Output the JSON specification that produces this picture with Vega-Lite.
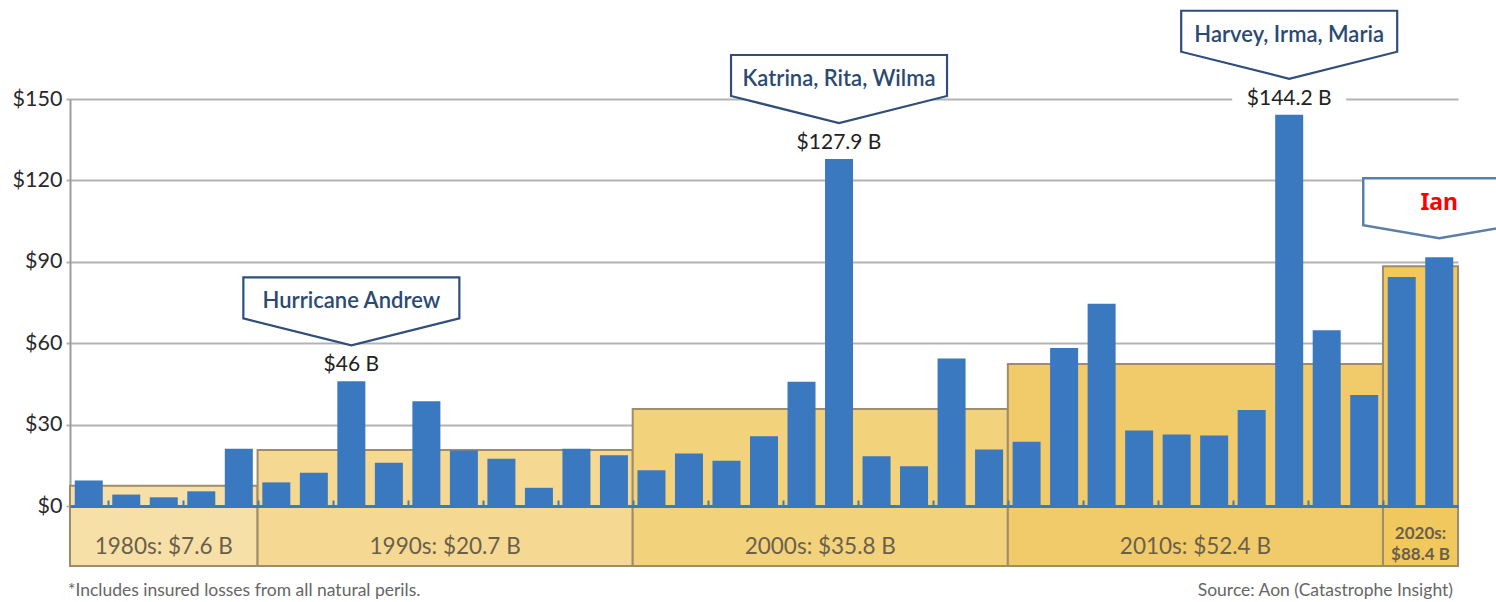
{
  "$schema": "https://vega.github.io/schema/vega-lite/v6.json",
  "width": 1388,
  "height": 467,
  "autosize": {"type": "none"},
  "padding": {"left": 70, "top": 99, "right": 38, "bottom": 36},
  "background": "white",
  "config": {"view": {"stroke": null}, "font": "Lato"},
  "datasets": {
    "years": [
      {"year": 1985, "value": 9.5}, {"year": 1986, "value": 4.3}, {"year": 1987, "value": 3.3},
      {"year": 1988, "value": 5.5}, {"year": 1989, "value": 21.2}, {"year": 1990, "value": 8.8},
      {"year": 1991, "value": 12.3}, {"year": 1992, "value": 46}, {"year": 1993, "value": 16.0},
      {"year": 1994, "value": 38.7}, {"year": 1995, "value": 20.5}, {"year": 1996, "value": 17.5},
      {"year": 1997, "value": 6.8}, {"year": 1998, "value": 21.2}, {"year": 1999, "value": 18.8},
      {"year": 2000, "value": 13.3}, {"year": 2001, "value": 19.4}, {"year": 2002, "value": 16.8},
      {"year": 2003, "value": 25.8}, {"year": 2004, "value": 45.9}, {"year": 2005, "value": 127.9},
      {"year": 2006, "value": 18.4}, {"year": 2007, "value": 14.7}, {"year": 2008, "value": 54.4},
      {"year": 2009, "value": 20.9}, {"year": 2010, "value": 23.8}, {"year": 2011, "value": 58.3},
      {"year": 2012, "value": 74.6}, {"year": 2013, "value": 27.9}, {"year": 2014, "value": 26.4},
      {"year": 2015, "value": 26.1}, {"year": 2016, "value": 35.5}, {"year": 2017, "value": 144.2},
      {"year": 2018, "value": 64.8}, {"year": 2019, "value": 41.0}, {"year": 2020, "value": 84.4},
      {"year": 2021, "value": 91.7}
    ],
    "decades": [
      {"decade": "1980s", "start": 1984.5, "end": 1989.5, "mid": 1987, "avg": 7.6, "label": "1980s: $7.6 B"},
      {"decade": "1990s", "start": 1989.5, "end": 1999.5, "mid": 1994.5, "avg": 20.7, "label": "1990s: $20.7 B"},
      {"decade": "2000s", "start": 1999.5, "end": 2009.5, "mid": 2004.5, "avg": 35.8, "label": "2000s: $35.8 B"},
      {"decade": "2010s", "start": 2009.5, "end": 2019.5, "mid": 2014.5, "avg": 52.4, "label": "2010s: $52.4 B"},
      {"decade": "2020s", "start": 2019.5, "end": 2021.5, "mid": 2020.5, "avg": 88.4, "label": "2020s:\n$88.4 B"}
    ],
    "callouts": [
      {"year": 1992, "value": 46, "label": "Hurricane Andrew", "amount": "$46 B"},
      {"year": 2005, "value": 127.9, "label": "Katrina, Rita, Wilma", "amount": "$127.9 B"},
      {"year": 2017, "value": 144.2, "label": "Harvey, Irma, Maria", "amount": "$144.2 B"}
    ],
    "ian": [
      {"year": 2021, "value": 91.7, "label": "Ian"}
    ],
    "notes": [
      {"text": "*Includes insured losses from all natural perils."},
      {"text": "Source: Aon (Catastrophe Insight)"}
    ]
  },
  "layer": [
    {
      "data": {"name": "decades"},
      "mark": {"type": "rect", "stroke": "#a08c6c", "strokeWidth": 2},
      "encoding": {
        "x": {"field": "start", "type": "quantitative",
          "scale": {"domain": [1984.5, 2021.5], "nice": false, "zero": false, "padding": 0},
          "axis": {"values": [1985.5, 1986.5, 1987.5, 1988.5, 1989.5, 1990.5, 1991.5, 1992.5, 1993.5, 1994.5, 1995.5, 1996.5, 1997.5, 1998.5, 1999.5, 2000.5, 2001.5, 2002.5, 2003.5, 2004.5, 2005.5, 2006.5, 2007.5, 2008.5, 2009.5, 2010.5, 2011.5, 2012.5, 2013.5, 2014.5, 2015.5, 2016.5, 2017.5, 2018.5, 2019.5, 2020.5],
            "labels": false, "title": null, "grid": false, "offset": -60,
            "domainColor": "#3a78bf", "domainWidth": 3,
            "tickColor": "#3a78bf", "tickWidth": 2, "tickSize": -6, "zindex": 1}},
        "x2": {"field": "end"},
        "y": {"field": "avg", "type": "quantitative",
          "scale": {"domain": [-22, 150], "nice": false, "zero": false, "padding": 0},
          "axis": {"values": [0, 30, 60, 90, 120, 150], "labelExpr": "'$' + datum.value", "title": null,
            "grid": true, "gridColor": "#b3b3b3", "gridWidth": 2,
            "domainColor": "#9c9c9c", "domainWidth": 2,
            "tickColor": "#b3b3b3", "tickSize": 4, "tickWidth": 2,
            "labelFontSize": 21.5, "labelColor": "#2a2a2a", "labelPadding": 4, "labelFont": "Lato"}},
        "y2": {"datum": -22},
        "color": {"field": "decade", "type": "nominal", "legend": null,
          "scale": {"domain": ["1980s", "1990s", "2000s", "2010s", "2020s"],
            "range": ["#f6e0a8", "#f5d993", "#f3d27c", "#f1cb6a", "#f0c85e"]}}
      }
    },
    {
      "data": {"name": "years"},
      "mark": {"type": "bar", "size": 28, "color": "#3a78bf"},
      "encoding": {
        "x": {"field": "year", "type": "quantitative", "title": null},
        "y": {"field": "value", "type": "quantitative", "title": null},
        "y2": {"datum": 0}
      }
    },
    {
      "data": {"name": "decades"},
      "transform": [{"filter": "datum.decade != '2020s'"}],
      "mark": {"type": "text", "fontSize": 22.5, "color": "#6b5f4b", "font": "Lato", "baseline": "middle"},
      "encoding": {
        "x": {"field": "mid", "type": "quantitative", "title": null},
        "y": {"datum": -15},
        "text": {"field": "label"}
      }
    },
    {
      "data": {"name": "decades"},
      "transform": [{"filter": "datum.decade == '2020s'"}],
      "mark": {"type": "text", "fontSize": 17, "fontWeight": "bold", "color": "#6b5f4b", "font": "Lato", "baseline": "middle", "lineBreak": "\n", "lineHeight": 21},
      "encoding": {
        "x": {"field": "mid", "type": "quantitative", "title": null},
        "y": {"datum": -10.2},
        "text": {"field": "label"}
      }
    },
    {
      "data": {"name": "callouts"},
      "mark": {"type": "point", "shape": "M-1,-0.25 L1,-0.25 L1,0.25 L-1,0.25 Z", "size": 12996, "filled": true, "fill": "white", "strokeWidth": 0, "opacity": 1, "yOffset": -16},
      "encoding": {
        "x": {"field": "year", "type": "quantitative", "title": null},
        "y": {"field": "value", "type": "quantitative", "title": null}
      }
    },
    {
      "data": {"name": "callouts"},
      "mark": {"type": "text", "fontSize": 21, "color": "#222222", "font": "Lato", "baseline": "middle", "yOffset": -16},
      "encoding": {
        "x": {"field": "year", "type": "quantitative", "title": null},
        "y": {"field": "value", "type": "quantitative", "title": null},
        "text": {"field": "amount"}
      }
    },
    {
      "data": {"name": "callouts"},
      "mark": {"type": "point", "shape": "M-1.08,-0.68 L1.08,-0.68 L1.08,-0.27 L0,0 L-1.08,-0.27 Z", "size": 40000, "filled": true, "fill": "white", "stroke": "#2f4f78", "strokeWidth": 2.2, "opacity": 1, "yOffset": -36},
      "encoding": {
        "x": {"field": "year", "type": "quantitative", "title": null},
        "y": {"field": "value", "type": "quantitative", "title": null}
      }
    },
    {
      "data": {"name": "callouts"},
      "mark": {"type": "text", "fontSize": 22, "color": "#2b4a72", "font": "Lato", "fontWeight": 600, "baseline": "middle", "yOffset": -80},
      "encoding": {
        "x": {"field": "year", "type": "quantitative", "title": null},
        "y": {"field": "value", "type": "quantitative", "title": null},
        "text": {"field": "label"}
      }
    },
    {
      "data": {"name": "ian"},
      "mark": {"type": "point", "shape": "M-0.76,-0.6 L0.76,-0.6 L0.76,-0.13 L0,0 L-0.76,-0.13 Z", "size": 40000, "filled": true, "fill": "white", "stroke": "#5b7fa6", "strokeWidth": 2.5, "opacity": 1, "yOffset": -19},
      "encoding": {
        "x": {"field": "year", "type": "quantitative", "title": null},
        "y": {"field": "value", "type": "quantitative", "title": null}
      }
    },
    {
      "data": {"name": "ian"},
      "mark": {"type": "text", "fontSize": 23, "color": "#ff0000", "font": "Noto Sans", "fontWeight": "bold", "baseline": "middle", "yOffset": -54},
      "encoding": {
        "x": {"field": "year", "type": "quantitative", "title": null},
        "y": {"field": "value", "type": "quantitative", "title": null},
        "text": {"field": "label"}
      }
    },
    {
      "data": {"name": "notes"},
      "transform": [{"filter": "indexof(datum.text, '*') == 0"}],
      "mark": {"type": "text", "fontSize": 17.5, "color": "#666666", "font": "Lato", "align": "left", "baseline": "middle", "yOffset": 25, "xOffset": -2},
      "encoding": {
        "x": {"datum": 1984.5},
        "y": {"datum": -22},
        "text": {"field": "text"}
      }
    },
    {
      "data": {"name": "notes"},
      "transform": [{"filter": "indexof(datum.text, 'Source') == 0"}],
      "mark": {"type": "text", "fontSize": 17.5, "color": "#666666", "font": "Lato", "align": "right", "baseline": "middle", "yOffset": 25, "xOffset": -5},
      "encoding": {
        "x": {"datum": 2021.5},
        "y": {"datum": -22},
        "text": {"field": "text"}
      }
    }
  ]
}
